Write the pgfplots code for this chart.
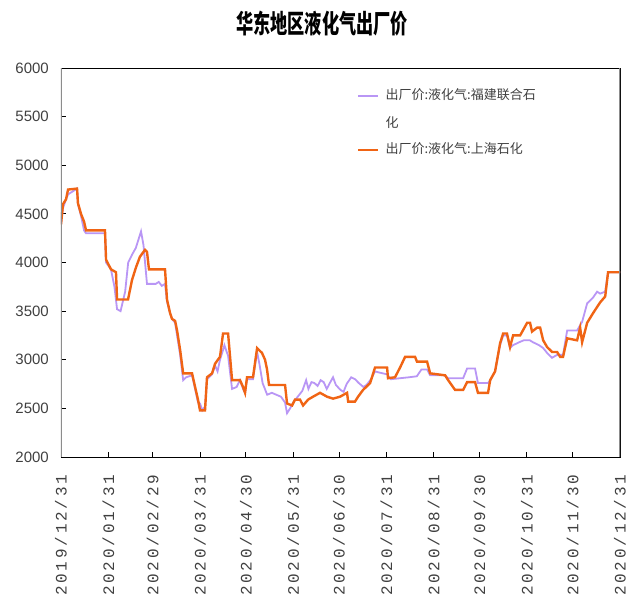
\documentclass[border=0pt]{standalone}
\usepackage{graphicx}
\usepackage{fontspec}
\usepackage{pgfplots}
\pgfplotsset{compat=1.18}
\setmainfont{Liberation Sans}
\newfontfamily\cjk{Noto Sans CJK SC}
\newfontfamily\datefont{Liberation Mono}
\definecolor{fjpurple}{RGB}{185,150,245}
\definecolor{shorange}{RGB}{240,100,20}
% each character of a date in a box of fixed width
\def\xlchars#1{\ifx#1\relax\else\makebox[12.4pt]{#1}\expandafter\xlchars\fi}
\newcommand\xl[1]{\rotatebox{90}{\datefont\xlchars #1\relax}}

\begin{document}
\begin{tikzpicture}
\useasboundingbox (0,0) rectangle (635pt,607pt);
\begin{axis}[
    at={(61pt,150pt)}, anchor=south west,
    scale only axis,
    width=559pt, height=389pt,
    xmin=0, xmax=366,
    ymin=2000, ymax=6000,
    xtick={0,31,60,91,121,152,182,213,244,274,305,335,366},
    xticklabels={\xl{2019/12/31},\xl{2020/01/31},\xl{2020/02/29},\xl{2020/03/31},\xl{2020/04/30},\xl{2020/05/31},\xl{2020/06/30},\xl{2020/07/31},\xl{2020/08/31},\xl{2020/09/30},\xl{2020/10/31},\xl{2020/11/30},\xl{2020/12/31}},
    ytick={2000,2500,3000,3500,4000,4500,5000,5500,6000},
    tick align=inside, tick pos=left,
    major tick length=5pt,
    tick style={black, line width=0.8pt},
    xticklabel style={anchor=north, font=\fontsize{16pt}{16pt}\selectfont, text=black!75, inner sep=0pt},
    xticklabel shift=16pt,
    yticklabel style={font=\fontsize{15pt}{15pt}\selectfont, text=black!75, inner sep=0pt},
    yticklabel shift=12pt,
    /pgf/number format/assume math mode=true,
    /pgf/number format/1000 sep={},
    axis line style={black, line width=0.8pt},
    title={\scalebox{0.66}[1]{\cjk\bfseries 华东地区液化气出厂价}},
    title style={at={(0.467,1)}, anchor=center, yshift=38pt, font=\fontsize{26pt}{26pt}\selectfont},
    legend style={at={(0.5295,0.945)}, anchor=north west, draw=none, fill=none,
        inner sep=0pt, column sep=6pt, row sep=41pt,
        nodes={inner sep=0pt, text height=10pt, text depth=3pt, font=\fontsize{13pt}{13pt}\selectfont\cjk, text=black!75}},
    legend cell align=left,
    legend image code/.code={\draw[#1] (0pt,0pt) -- (20pt,0pt);},
]
\addplot[fjpurple, line width=1.8pt] coordinates {
(0,4400)(1.3,4560)(3.3,4650)(4.6,4700)(10.5,4760)(11.1,4600)(13.1,4480)(15.1,4330)(16.4,4300)(28.8,4300)(29.5,4000)(32.7,3930)(35,3750)(36.7,3520)(39,3500)(40.5,3600)(42,3700)(44,4000)(46.5,4080)(49,4150)(52.4,4320)(54,4180)(56.3,3780)(62,3780)(64,3800)(66,3760)(68.1,3780)(69.4,3600)(71.4,3480)(72.7,3420)(74.7,3380)(76,3250)(78,3050)(80,2790)(82,2820)(85.8,2840)(87.8,2700)(89.7,2560)(91,2550)(92.5,2480)(94.3,2520)(95.6,2800)(98.9,2850)(100.9,2940)(102.5,2880)(104.1,3000)(106.1,3100)(107,3150)(109.4,3040)(112,2700)(115,2720)(117.2,2790)(119.2,2700)(120.5,2660)(121.8,2800)(125.7,2800)(128.4,3080)(130,2950)(132,2760)(135,2640)(138,2660)(141,2640)(144,2620)(146.7,2560)(148,2450)(150,2500)(152,2560)(155,2620)(158,2680)(160.5,2790)(162,2700)(164,2770)(166,2760)(168,2730)(170,2790)(172,2770)(174,2700)(176,2760)(178.1,2820)(180,2740)(183,2690)(185,2670)(187,2750)(190,2820)(192.5,2800)(195,2760)(198,2720)(200,2740)(203,2800)(205.6,2880)(208,2870)(213.5,2850)(216,2800)(222,2810)(228,2820)(233,2830)(236,2900)(239.7,2900)(241.7,2840)(251,2840)(253.5,2810)(263.3,2810)(265.9,2910)(271.1,2910)(273,2760)(279.6,2760)(281,2790)(284.2,2880)(287.5,3150)(289.5,3250)(292,3250)(294,3120)(296,3150)(300,3180)(303,3200)(307,3200)(309,3180)(313,3150)(315.7,3120)(318.3,3070)(321.5,3020)(324.8,3050)(328.7,3050)(331.4,3300)(337.9,3300)(341.2,3390)(344.5,3580)(348.4,3640)(351,3700)(353,3680)(356.3,3700)(358.2,3900)(366,3900)
};
\addlegendentry{\rlap{\smash{\raisebox{-28pt}{化}}}出厂价:液化气:福建联合石}
\addplot[shorange, line width=2.4pt] coordinates {
(0,4390)(1.3,4600)(3.3,4650)(4.6,4750)(10.5,4760)(11.1,4610)(13.1,4500)(15.1,4420)(16.4,4330)(28.8,4330)(29.5,4030)(32.7,3930)(36,3900)(36.7,3620)(43.9,3620)(46.5,3820)(49.1,3950)(51.7,4060)(55,4130)(56.3,4110)(57.6,3930)(68.1,3930)(69.4,3620)(71.4,3480)(72.7,3420)(74.7,3400)(76,3300)(78,3100)(80,2860)(85.8,2860)(87.8,2720)(89.7,2590)(91,2480)(94.3,2480)(95.6,2820)(98.9,2860)(100.9,2960)(104.1,3030)(106.1,3270)(109.4,3270)(112,2790)(117.2,2790)(119.2,2720)(120.5,2660)(121.8,2820)(125.7,2820)(128.4,3120)(131.6,3070)(133.6,3000)(134.9,2900)(136.2,2740)(146.7,2740)(148,2550)(151.3,2530)(153.2,2590)(156.5,2590)(158.5,2530)(161.8,2590)(165,2620)(169.6,2660)(174.2,2620)(178.1,2600)(182.7,2620)(187.3,2660)(188,2570)(192.5,2570)(194.5,2620)(197.8,2690)(202.4,2760)(205.6,2920)(213.5,2920)(214.1,2810)(218.7,2820)(222,2920)(225.3,3030)(231.8,3030)(233.1,2980)(239.7,2980)(241.7,2860)(251.5,2840)(253.5,2790)(258,2690)(263.3,2690)(265.9,2770)(271.1,2770)(273,2660)(279.6,2660)(281,2790)(284.2,2880)(287.5,3170)(289.5,3270)(292,3270)(294,3130)(296,3250)(300.6,3250)(305.2,3380)(307.1,3380)(308.4,3290)(311.7,3330)(313.7,3330)(315.7,3200)(318.3,3130)(321.5,3080)(324.8,3080)(326.8,3030)(328.7,3030)(331.4,3220)(337.9,3200)(339.9,3330)(341.2,3180)(344.5,3380)(348.4,3480)(353,3590)(356.3,3650)(358.2,3900)(366,3900)
};
\addlegendentry{出厂价:液化气:上海石化}
\draw[black!45, line width=2.5pt] (rel axis cs:0,0) -- (rel axis cs:0,1);
\draw[black!45, line width=1.6pt] (rel axis cs:1,0) -- (rel axis cs:1,1);
\end{axis}
\end{tikzpicture}
\end{document}
